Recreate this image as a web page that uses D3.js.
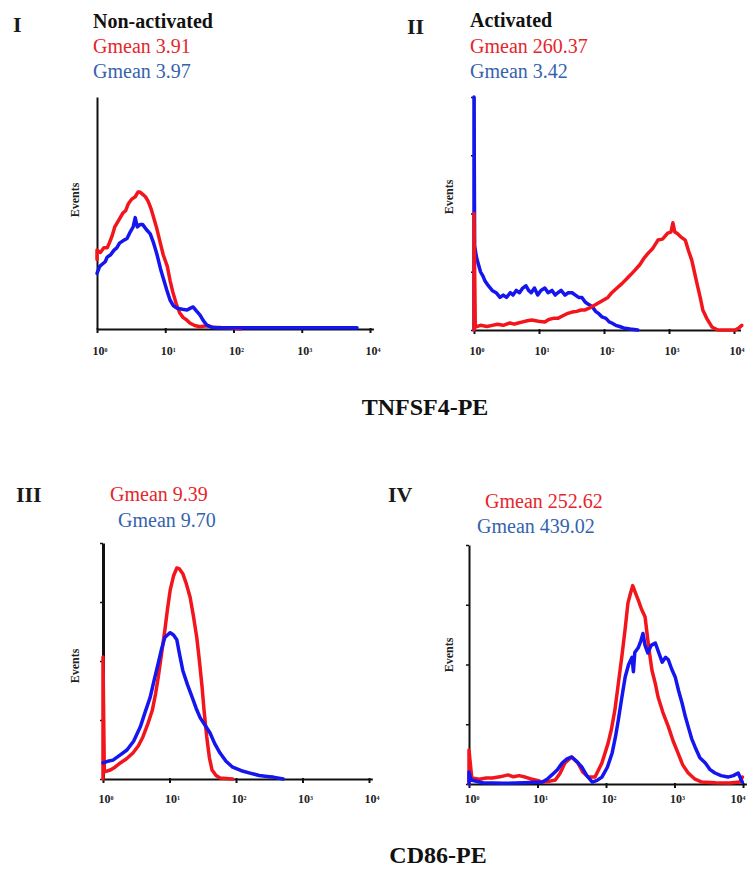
<!DOCTYPE html>
<html><head><meta charset="utf-8">
<script src="https://cdn.jsdelivr.net/npm/d3@7"></script>
<style>
body{margin:0;background:#fff}
svg{display:block}
</style>
</head><body>
<svg id="chart" width="751" height="870"></svg>
<script>
// Flow cytometry histograms: [log10 fluorescence, % of max events]
const decadeTicks = [0, 1, 2, 3, 4];
const eventTicks = [0, 25, 50, 75, 100];
const panelIds = ["I", "II", "III", "IV"];
const headers = ["Non-activated", "Activated", "", ""];
const redGmean = [3.91, 260.37, 9.39, 252.62];
const blueGmean = [3.97, 3.42, 9.70, 439.02];
const markerLabels = ["TNFSF4-PE", "CD86-PE"];

const redI = [[0,30],[0,34],[0.05,33],[0.1,35],[0.15,35],[0.18,37],[0.22,40],[0.26,44],[0.3,46],[0.34,48],[0.38,50],[0.42,51],[0.46,54],[0.51,56],[0.56,57],[0.6,59],[0.63,59],[0.67,58],[0.71,57],[0.75,55],[0.79,52],[0.82,49],[0.87,44],[0.92,38],[0.97,32],[1.03,27],[1.07,21],[1.11,16],[1.16,11],[1.21,7],[1.26,5],[1.31,4],[1.36,2.6],[1.43,1.5],[1.51,1],[1.6,1.4],[1.7,0.8],[1.82,0.6],[1.95,0.5],[2.1,0]];
const blueI = [[0,24],[0.04,27],[0.08,28],[0.12,29],[0.15,31],[0.2,32],[0.25,34],[0.29,35],[0.33,37],[0.38,38],[0.44,39],[0.49,42],[0.53,44],[0.56,48],[0.59,44],[0.63,45],[0.67,45],[0.72,43],[0.78,41],[0.83,37],[0.88,32],[0.93,26],[0.97,22],[1.02,17],[1.07,12.5],[1.12,10],[1.17,9],[1.25,8.5],[1.32,8.2],[1.37,9],[1.41,9.5],[1.45,8],[1.51,6],[1.56,3.5],[1.61,1.7],[1.68,0.8],[1.76,0.5],[2.5,0.5],[3.2,0.5],[3.81,0.5]];

const redII = [[0,0],[0,50],[0.02,1.3],[0.1,2],[0.2,1.5],[0.28,2],[0.36,2.5],[0.45,2],[0.55,3],[0.62,2.5],[0.68,3],[0.75,3.5],[0.82,4],[0.89,4.3],[0.95,4],[1.02,3.6],[1.09,3.4],[1.15,4.5],[1.22,5],[1.29,5],[1.36,6],[1.43,7],[1.51,7.7],[1.58,8],[1.65,8.6],[1.71,8.6],[1.78,9.5],[1.86,10.7],[1.94,12],[2.0,13],[2.06,14],[2.12,16],[2.2,18],[2.28,20],[2.35,22],[2.42,24],[2.48,25.8],[2.55,28],[2.62,31],[2.68,33],[2.75,35],[2.83,38.6],[2.9,39],[2.98,41.6],[3.03,42],[3.06,46],[3.09,42],[3.12,41.6],[3.18,40],[3.25,38.6],[3.3,34],[3.35,30],[3.39,25],[3.43,20],[3.48,14],[3.52,8.6],[3.58,5],[3.66,1.3],[3.75,0],[3.9,0],[4.02,0],[4.08,1],[4.12,2]];
const blueII = [[0,0],[0,100],[0.01,36],[0.04,31],[0.06,29],[0.1,25],[0.14,23],[0.17,21],[0.22,19],[0.28,17],[0.34,16],[0.4,14],[0.45,15],[0.5,14],[0.56,16],[0.6,15],[0.65,17],[0.7,16],[0.75,18],[0.8,19],[0.84,17],[0.88,16],[0.93,18],[0.98,15],[1.03,17],[1.09,18],[1.14,16],[1.2,17],[1.25,15],[1.29,16],[1.34,17],[1.4,15],[1.45,16],[1.51,16],[1.56,15],[1.61,14],[1.66,14],[1.71,12],[1.76,11],[1.82,10],[1.87,8],[1.92,7],[1.97,5.6],[2.03,5],[2.08,3.5],[2.12,3],[2.18,2],[2.24,1.5],[2.3,0.9],[2.4,0.4],[2.52,0]];

const redIII = [[0,0],[0,51.7],[0.02,3],[0.11,3.8],[0.18,5],[0.26,6.8],[0.35,8.5],[0.45,11],[0.53,14],[0.6,17.8],[0.67,23],[0.74,29],[0.79,36],[0.83,43],[0.88,53],[0.93,63],[0.97,72],[1.01,80],[1.06,86],[1.11,89.4],[1.15,89],[1.2,87],[1.25,83],[1.31,77],[1.36,69],[1.41,60],[1.45,50],[1.49,39],[1.52,29],[1.56,17.8],[1.6,9],[1.64,3.8],[1.7,1.5],[1.76,0.4],[1.95,0]];
const blueIII = [[0,6.8],[0.07,7.5],[0.15,8],[0.25,10],[0.36,12.3],[0.46,16],[0.56,22],[0.63,28],[0.71,34.7],[0.77,42],[0.83,49],[0.88,55],[0.93,60],[0.97,61],[1.01,62],[1.06,61],[1.11,59],[1.15,53],[1.2,46],[1.27,40],[1.34,34.7],[1.4,30],[1.46,26],[1.53,23],[1.61,19.5],[1.68,15],[1.76,11],[1.85,7.5],[1.95,5],[2.08,3.5],[2.21,2.5],[2.35,1.5],[2.5,1],[2.56,0.8],[2.71,0]];

const redIV = [[0,0],[0,14.2],[0.04,2.5],[0.15,2],[0.25,2.5],[0.34,2.5],[0.45,3],[0.57,3.8],[0.65,3],[0.73,3.5],[0.82,2.9],[0.92,2],[1.0,1.5],[1.07,0.8],[1.15,1],[1.26,1.7],[1.33,4.5],[1.4,8.8],[1.5,11.3],[1.59,8.8],[1.66,5],[1.74,2.9],[1.84,2.9],[1.94,8.8],[2.03,17],[2.08,23],[2.13,31],[2.18,42],[2.23,53],[2.28,65],[2.32,75.7],[2.36,80],[2.39,83],[2.43,80],[2.47,77],[2.52,73],[2.57,70],[2.62,58],[2.67,47.7],[2.72,42],[2.76,36.4],[2.83,30],[2.91,24],[2.98,18],[3.05,13],[3.12,8],[3.2,4.6],[3.3,2],[3.4,0.8],[3.6,0.5],[3.8,0.4],[3.95,0.8],[3.99,2.9]];
const blueIV = [[0,0],[0,5],[0.03,1.7],[0.2,0.5],[0.5,0.3],[0.8,0.5],[1.07,0.8],[1.14,2],[1.21,3.8],[1.29,6],[1.36,8.8],[1.43,10.5],[1.5,11.3],[1.57,9.5],[1.65,7],[1.72,3.5],[1.8,0.8],[1.87,1.5],[1.94,2.9],[2.02,7],[2.09,13],[2.14,20],[2.18,26.8],[2.23,36],[2.28,44.8],[2.33,50],[2.38,53],[2.4,47],[2.42,55],[2.47,57],[2.51,60],[2.54,63],[2.57,58],[2.61,54.8],[2.66,58],[2.72,59],[2.77,55],[2.82,51],[2.87,53],[2.91,52],[2.96,48],[3.01,44.8],[3.06,39],[3.11,33.9],[3.16,28],[3.2,24],[3.25,19],[3.3,15.5],[3.37,11],[3.45,8.8],[3.52,6],[3.59,4.6],[3.68,3.5],[3.78,2.9],[3.86,3.5],[3.93,4.6],[3.97,2],[3.99,0.8]];

const redSeries = [redI, redII, redIII, redIV];
const blueSeries = [blueI, blueII, blueIII, blueIV];

// panel geometry
const frames = [
  {x0:97,  dec:68.25, end:4.05, top:97,  bot:329, yTicks:false, num:[13,32],  head:[93,28],  red:[93,53],   blue:[93,78],   ev:[79,200],  lab:355, blueFirst:false},
  {x0:474, dec:65,    end:4.1,  top:97,  bot:330, yTicks:true,  num:[407,34], head:[470,27], red:[470,53],  blue:[470,78],  ev:[453,197], lab:355, blueFirst:true},
  {x0:103, dec:66.5,  end:4.05, top:543, bot:779, yTicks:true,  num:[16,502], head:null,     red:[110,501], blue:[118,527], ev:[79,666],  lab:803, blueFirst:false},
  {x0:469, dec:68.5,  end:4.05, top:545, bot:784, yTicks:true,  num:[388,502],head:null,     red:[485,508], blue:[477,533], ev:[453,655], lab:803, blueFirst:false}
];
const SERIF = "'Liberation Serif', 'DejaVu Serif', 'Times New Roman', serif";
const RED = "#f2161c", BLUE = "#1515f0";
const RED_TXT = "#e4262c", BLUE_TXT = "#3463ad";

const svg = d3.select("#chart");

function label(sel, x, y, size, bold, fill, str) {
  return sel.append("text").attr("x", x).attr("y", y)
    .attr("font-family", SERIF).attr("font-size", size)
    .attr("font-weight", bold ? "bold" : "normal").attr("fill", fill)
    .text(str);
}

frames.forEach((f, i) => {
  const g = svg.append("g");
  const x = d3.scaleLog().domain([1, Math.pow(10, f.end)])
    .range([f.x0, f.x0 + f.dec * f.end]);
  const y = d3.scaleLinear().domain([0, 100]).range([f.bot, f.top]);

  // axes
  const xAxis = d3.axisBottom(x)
    .tickValues(decadeTicks.map(d => Math.pow(10, d)))
    .tickSize(4).tickSizeOuter(0).tickFormat("");
  const gx = g.append("g").attr("transform", `translate(0,${f.bot})`).call(xAxis);
  gx.select(".domain").attr("stroke", "#111").attr("stroke-width", 2);
  gx.selectAll(".tick line").attr("stroke", "#111").attr("stroke-width", 2).attr("y1", -1);

  const yAxis = d3.axisLeft(y).tickValues(f.yTicks ? eventTicks : [])
    .tickSize(3).tickSizeOuter(0).tickFormat("");
  const gy = g.append("g").attr("transform", `translate(${f.x0},0)`).call(yAxis);
  gy.select(".domain").attr("stroke", "#111").attr("stroke-width", i === 2 ? 3 : 2);
  gy.selectAll(".tick line").attr("stroke", "#111").attr("stroke-width", 1.5);

  // decade labels 10^n
  decadeTicks.forEach(d => {
    const cx = Math.min(x(Math.pow(10, d)) + 3, 738);
    const t = g.append("text")
      .attr("x", cx).attr("y", f.lab)
      .attr("text-anchor", "middle").attr("font-family", SERIF)
      .attr("font-weight", "bold").attr("font-size", 12).attr("fill", "#222");
    t.append("tspan").text("10");
    t.append("tspan").attr("font-size", 6).attr("dy", -3).text(d);
  });

  // histogram traces
  const line = d3.line().x(d => x(Math.pow(10, d[0]))).y(d => y(d[1]));
  const order = f.blueFirst
    ? [[blueSeries[i], BLUE], [redSeries[i], RED]]
    : [[redSeries[i], RED], [blueSeries[i], BLUE]];
  order.forEach(([data, col]) => {
    g.append("path").datum(data).attr("d", line)
      .attr("fill", "none").attr("stroke", col).attr("stroke-width", 3.5)
      .attr("stroke-linejoin", "round").attr("stroke-linecap", "round");
  });

  // axis title
  g.append("text")
    .attr("transform", `translate(${f.ev[0]},${f.ev[1]}) rotate(-90)`)
    .attr("text-anchor", "middle").attr("font-family", SERIF)
    .attr("font-weight", "bold").attr("font-size", 12).attr("fill", "#222")
    .text("Events");

  // panel numeral, header, gmeans
  label(g, f.num[0], f.num[1], 22, true, "#1a1a1a", panelIds[i]);
  if (f.head) label(g, f.head[0], f.head[1], 20, true, "#111", headers[i]);
  label(g, f.red[0], f.red[1], 20, false, RED_TXT, "Gmean " + redGmean[i].toFixed(2));
  label(g, f.blue[0], f.blue[1], 20, false, BLUE_TXT, "Gmean " + blueGmean[i].toFixed(2));
});

// marker captions under each row
const captionPos = [[425, 415], [438, 863]];
markerLabels.forEach((m, k) => {
  label(svg, captionPos[k][0], captionPos[k][1], 24, true, "#111", m)
    .attr("text-anchor", "middle");
});
</script>
</body></html>
